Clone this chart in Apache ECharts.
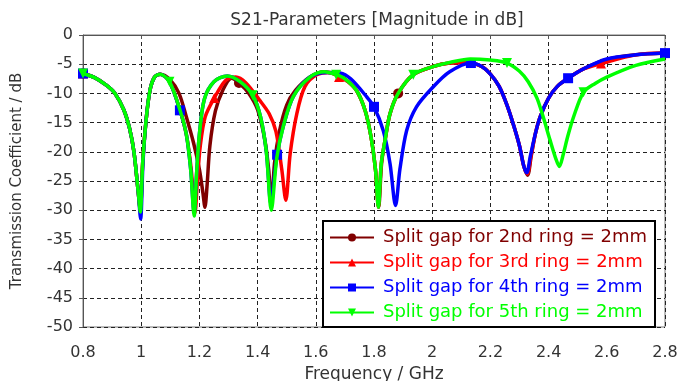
<!DOCTYPE html>
<html>
<head>
<meta charset="utf-8">
<script src="https://cdn.jsdelivr.net/npm/echarts@6/dist/echarts.min.js"></script>
<style>
	html, body { margin: 0; padding: 0; background: #fff; }
	#chart { width: 685px; height: 381px; }
</style>
</head>
<body>
<div id="chart"></div>
<script>
	// [frequency GHz, S21 dB]
	const s21_2nd = [[0.80,-6.6],[0.84,-7.3],[0.88,-8.6],[0.91,-10],[0.94,-12.8],[0.96,-16],[0.975,-20],[0.99,-27],[0.997,-30],[1.005,-22],[1.017,-14.5],[1.03,-9.5],[1.046,-7.2],[1.066,-6.7],[1.1,-7.7],[1.13,-10],[1.155,-14],[1.18,-18.5],[1.2,-23],[1.212,-27],[1.219,-29.5],[1.226,-26],[1.236,-19],[1.255,-13],[1.28,-9.5],[1.31,-7.4],[1.336,-8.2],[1.37,-10],[1.4,-12.8],[1.425,-18],[1.438,-23],[1.448,-29],[1.458,-22],[1.475,-16.5],[1.5,-12],[1.53,-9.5],[1.58,-7.2],[1.63,-6.3],[1.67,-6.8],[1.7,-7.5],[1.74,-9.5],[1.77,-13],[1.79,-17.5],[1.805,-23],[1.816,-29.5],[1.826,-22],[1.838,-18],[1.855,-13.5],[1.883,-10],[1.935,-6.8],[2.003,-5.4],[2.06,-4.8],[2.125,-4.7],[2.17,-5.4],[2.2,-6.7],[2.23,-8.8],[2.257,-12],[2.28,-15.5],[2.3,-19],[2.315,-22.5],[2.328,-24],[2.34,-20.8],[2.355,-16.8],[2.371,-14],[2.4,-10.8],[2.43,-8.8],[2.467,-7.4],[2.52,-5.8],[2.6,-4.2],[2.7,-3.4],[2.8,-3.1]];
	const s21_3rd = [[0.80,-6.6],[0.84,-7.3],[0.88,-8.6],[0.91,-10],[0.94,-12.8],[0.96,-16],[0.975,-20],[0.99,-27],[0.997,-30],[1.005,-22],[1.017,-14.5],[1.03,-9.5],[1.046,-7.2],[1.065,-6.7],[1.097,-8],[1.133,-12.8],[1.155,-17],[1.172,-23],[1.185,-30.5],[1.193,-25],[1.203,-19],[1.22,-14],[1.251,-10.8],[1.29,-7.8],[1.325,-7.2],[1.36,-8.2],[1.406,-11.1],[1.44,-13.5],[1.463,-16.5],[1.483,-23],[1.497,-28.3],[1.512,-20.3],[1.535,-13.4],[1.563,-8.8],[1.603,-6.8],[1.65,-6.4],[1.68,-7.2],[1.71,-8],[1.74,-9.5],[1.77,-13],[1.79,-17.5],[1.805,-23],[1.815,-29.5],[1.825,-22],[1.838,-18],[1.855,-13.5],[1.883,-10],[1.935,-6.8],[2.003,-5.4],[2.06,-4.8],[2.125,-4.7],[2.17,-5.4],[2.2,-6.7],[2.23,-8.8],[2.257,-12],[2.28,-15.5],[2.3,-19],[2.315,-22.5],[2.327,-23.8],[2.339,-20.8],[2.355,-16.8],[2.371,-14],[2.4,-10.8],[2.43,-8.8],[2.467,-7.4],[2.52,-5.8],[2.58,-4.9],[2.7,-3.4],[2.8,-3.1]];
	const s21_4th = [[0.80,-6.6],[0.84,-7.3],[0.88,-8.6],[0.91,-10],[0.94,-12.8],[0.96,-16],[0.975,-20],[0.99,-27],[0.998,-31.5],[1.006,-22],[1.017,-14.5],[1.03,-9.5],[1.046,-7.2],[1.065,-6.7],[1.097,-8],[1.133,-12.9],[1.155,-17],[1.17,-23],[1.182,-30.5],[1.19,-24],[1.2,-17],[1.217,-11],[1.25,-8],[1.296,-7],[1.34,-8],[1.383,-10.3],[1.41,-14],[1.43,-20],[1.446,-29],[1.458,-24],[1.467,-20.5],[1.489,-15.5],[1.523,-10.5],[1.58,-7.2],[1.64,-6.4],[1.683,-6.5],[1.72,-7.5],[1.775,-10.6],[1.8,-12.3],[1.832,-16.4],[1.855,-22],[1.874,-29.2],[1.889,-23],[1.912,-16.4],[1.946,-12.3],[2.003,-8.9],[2.06,-6.3],[2.133,-4.8],[2.17,-5.4],[2.2,-6.7],[2.23,-8.8],[2.257,-12],[2.28,-15.5],[2.3,-19],[2.315,-22.5],[2.325,-23.6],[2.337,-20.8],[2.355,-16.8],[2.371,-14],[2.4,-10.8],[2.43,-8.8],[2.467,-7.4],[2.52,-5.8],[2.6,-4.1],[2.7,-3.4],[2.8,-3.1]];
	const s21_5th = [[0.80,-6.6],[0.84,-7.3],[0.88,-8.6],[0.91,-10],[0.94,-12.8],[0.96,-16],[0.975,-20],[0.99,-27],[0.997,-30.3],[1.005,-22],[1.017,-14.5],[1.03,-9.5],[1.046,-7.2],[1.065,-6.7],[1.097,-8],[1.133,-12.8],[1.155,-17],[1.17,-23],[1.182,-31],[1.19,-24],[1.2,-17],[1.217,-11],[1.25,-8],[1.296,-7],[1.34,-8],[1.383,-10.3],[1.41,-14],[1.43,-20],[1.447,-30],[1.466,-21],[1.489,-15.5],[1.523,-10.5],[1.58,-7.2],[1.63,-6.3],[1.67,-6.8],[1.7,-7.5],[1.74,-9.5],[1.77,-13],[1.79,-17.5],[1.805,-23],[1.815,-29.5],[1.825,-22],[1.838,-18],[1.855,-13.5],[1.883,-10],[1.935,-6.8],[2.003,-5.4],[2.06,-4.7],[2.131,-4.1],[2.2,-4.3],[2.257,-4.8],[2.3,-6.2],[2.33,-8],[2.36,-10.8],[2.38,-13.8],[2.405,-18],[2.425,-21.2],[2.437,-22.5],[2.45,-20.5],[2.465,-17.5],[2.486,-14],[2.52,-9.8],[2.56,-8.3],[2.6,-7.2],[2.7,-5.2],[2.8,-4.1]];

	// frequencies where a marker is drawn on each curve
	const marks2nd = [0.8, 1.336, 1.883];
	const marks3rd = [0.8, 1.251, 1.68, 2.58];
	const marks4th = [0.8, 1.133, 1.467, 1.8, 2.133, 2.467, 2.8];
	const marks5th = [0.8, 1.097, 1.383, 1.67, 1.935, 2.257, 2.52];

	const seriesNames = [
		"Split gap for 2nd ring = 2mm",
		"Split gap for 3rd ring = 2mm",
		"Split gap for 4th ring = 2mm",
		"Split gap for 5th ring = 2mm"
	];
	const seriesColors = ["#800000", "#ff0000", "#0000ff", "#00ff00"];
	const seriesSymbols = ["circle", "triangle", "rect", "triangle"];
	const seriesRotate = [0, 0, 0, 180];

	const yTicks = { min: -50, max: 0, interval: 5 };
	const xTicks = { min: 0.8, max: 2.8, interval: 0.2 };

	const allData = [s21_2nd, s21_3rd, s21_4th, s21_5th];
	const allMarks = [marks2nd, marks3rd, marks4th, marks5th];

	const font = "DejaVu Sans";

	const buildPoints = (pts, marks) =>
		pts.map(p => {
			const item = { value: p };
			if (!marks.includes(p[0])) item.symbol = "none";
			return item;
		});

	const chart = echarts.init(document.getElementById("chart"), null, { renderer: "canvas" });

	const option = {
		animation: false,
		backgroundColor: "#fff",
		title: {
			text: "S21-Parameters [Magnitude in dB]",
			left: 372,
			top: 7,
			textAlign: "center",
			textStyle: { fontFamily: font, fontSize: 17, fontWeight: "normal", color: "#333" }
		},
		grid: {
			left: 83,
			right: 20,
			top: 35,
			bottom: 54,
			outerBoundsMode: "none",
			show: true,
			borderColor: "#777",
			borderWidth: 1
		},
		legend: {
			orient: "vertical",
			left: 323,
			top: 221,
			padding: [6, 8, 4, 6],
			backgroundColor: "#fff",
			borderColor: "#000",
			borderWidth: 2,
			borderRadius: 0,
			itemWidth: 44,
			itemHeight: 10,
			itemGap: 4,
			textStyle: { fontFamily: font, fontSize: 18, lineHeight: 21, padding: [0, 0, 0, 4] },
			data: seriesNames.map((n, i) => ({ name: n, textStyle: { color: seriesColors[i] } }))
		},
		xAxis: {
			type: "value",
			min: xTicks.min,
			max: xTicks.max,
			interval: xTicks.interval,
			name: "Frequency / GHz",
			nameLocation: "middle",
			nameGap: 37,
			nameTextStyle: { fontFamily: font, fontSize: 17, color: "#333" },
			axisLine: { lineStyle: { color: "#555", width: 1 } },
			axisTick: { show: true, length: 4, lineStyle: { color: "#555" } },
			axisLabel: { fontFamily: font, fontSize: 16, color: "#333", margin: 18 },
			splitLine: { show: true, lineStyle: { color: "#222", type: [4, 3], width: 1 } }
		},
		yAxis: {
			type: "value",
			min: yTicks.min,
			max: yTicks.max,
			interval: yTicks.interval,
			name: "Transmission Coefficient / dB",
			nameLocation: "middle",
			nameGap: 58,
			nameTextStyle: { fontFamily: font, fontSize: 15, color: "#333" },
			axisLine: { show: true, lineStyle: { color: "#555", width: 1 } },
			axisTick: { show: true, length: 4, lineStyle: { color: "#555" } },
			axisLabel: { fontFamily: font, fontSize: 16, color: "#333", margin: 10 },
			splitLine: { show: true, lineStyle: { color: "#222", type: [4, 3], width: 1 } }
		},
		series: allData.map((pts, i) => ({
			name: seriesNames[i],
			type: "line",
			data: buildPoints(pts, allMarks[i]),
			smooth: 0.3,
			symbol: seriesSymbols[i],
			symbolRotate: seriesRotate[i],
			symbolSize: 10,
			itemStyle: { color: seriesColors[i] },
			lineStyle: { color: seriesColors[i], width: 3.5 },
			z: 2 + i
		}))
	};

	chart.setOption(option);
</script>
</body>
</html>
